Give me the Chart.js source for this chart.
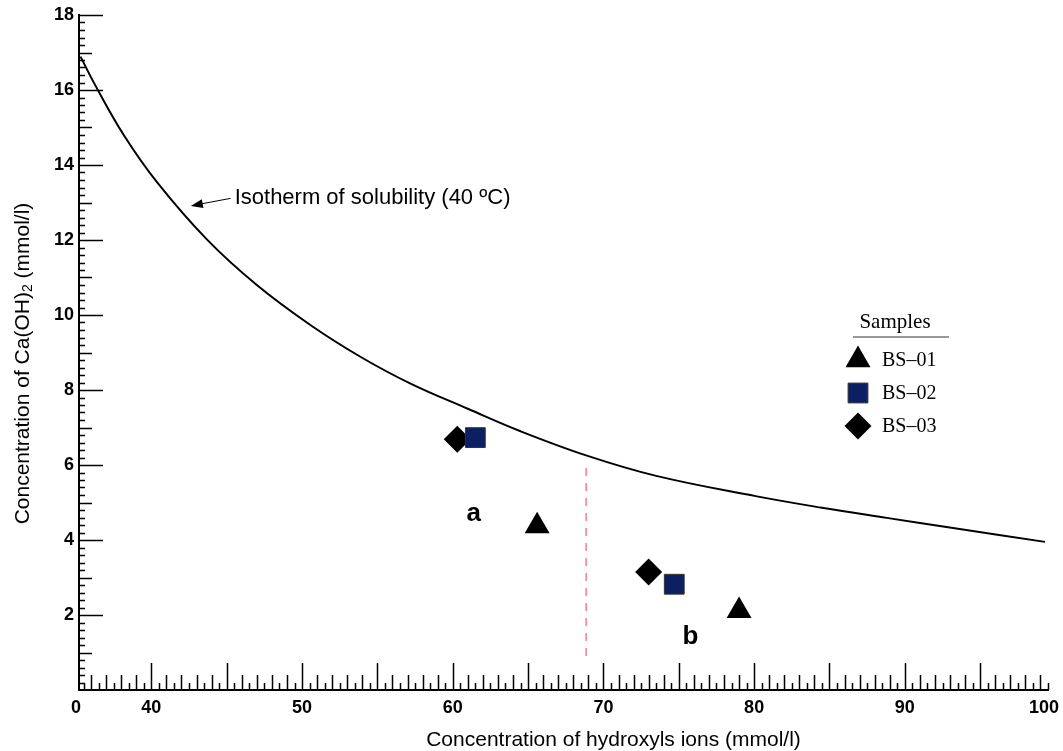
<!DOCTYPE html>
<html>
<head>
<meta charset="utf-8">
<title>Isotherm of solubility (40 ºC)</title>
<script src="https://cdn.jsdelivr.net/npm/chart.js@4.4.1/dist/chart.umd.min.js"></script>
<style>
    html, body { margin: 0; padding: 0; background: #fff; }
    #wrap { position: relative; width: 1063px; height: 751px; }
</style>
</head>
<body>
<div id="wrap"><canvas id="chart"></canvas></div>
<script>
/* ==================== Data ==================== */
// isotherm of solubility at 40 ºC
const isothermX = [35.3, 36.3, 38.2, 40.4, 43.7, 47.0, 50.6, 53.9, 57.2, 61.0, 64.5, 68.9, 73.5, 80.1, 84.5, 88.8, 93.2, 99.3];
const isothermY = [16.89, 16.11, 14.78, 13.53, 12.01, 10.80, 9.72, 8.88, 8.17, 7.50, 6.90, 6.25, 5.71, 5.17, 4.86, 4.59, 4.32, 3.95];

// samples (a = left group, b = right group)
const sampleNames = ['BS–01', 'BS–02', 'BS–03'];
const bs01X = [65.6, 79.0];
const bs01Y = [4.37, 2.11];
const bs02X = [61.5, 74.7];
const bs02Y = [6.73, 2.82];
const bs03X = [60.3, 73.0];
const bs03Y = [6.69, 3.15];

// red dashed separator between group a and b
const dividerX = [68.85, 68.85];
const dividerY = [5.92, 0.85];

// axis ticks
const xTickValues = [35, 40, 50, 60, 70, 80, 90, 100];
const xTickLabels = ['0', '40', '50', '60', '70', '80', '90', '100'];

/* ==================== Styling ==================== */
const SANS = "'Liberation Sans', Arial, sans-serif";
const SERIF = "'Liberation Serif', 'Times New Roman', serif";
const NAVY = '#0b1f62';
const RED = '#ef5d6c';

const toPoints = (xs, ys) => xs.map((x, i) => ({ x: x, y: ys[i] }));

/* ==================== Overlay plugin ==================== */
// inward minor/major tick marks, x labels, axis titles, annotations, legend
const overlay = {
    id: 'overlay',
    afterDraw(chart) {
        const { ctx, chartArea, scales } = chart;
        const x = scales.x, y = scales.y;
        const left = chartArea.left, bottom = chartArea.bottom;

        ctx.save();
        ctx.strokeStyle = '#000';
        ctx.lineWidth = 1.5;

        // x tick marks every 0.5 unit, pointing up into the plot
        ctx.beginPath();
        for (let i = Math.ceil(x.min * 2); i <= Math.floor(x.max * 2); i++) {
            const v = i / 2;
            if (v <= x.min) continue;
            const len = v % 5 === 0 ? 27 : (v % 1 === 0 ? 15 : 7);
            const px = Math.round(x.getPixelForValue(v)) + 0.5;
            ctx.moveTo(px, bottom);
            ctx.lineTo(px, bottom - len);
        }
        // y tick marks every 0.2 unit, pointing right into the plot
        for (let i = 1; i <= Math.round(y.max * 5); i++) {
            const len = i % 10 === 0 ? 24 : (i % 5 === 0 ? 13 : 6);
            const py = Math.round(y.getPixelForValue(i / 5)) + 0.5;
            ctx.moveTo(left, py);
            ctx.lineTo(left + len, py);
        }
        ctx.stroke();

        // x tick labels
        ctx.fillStyle = '#000';
        ctx.font = 'bold 18px ' + SANS;
        ctx.textAlign = 'center';
        ctx.textBaseline = 'middle';
        xTickValues.forEach((v, i) => {
            const w = ctx.measureText(xTickLabels[i]).width;
            const cx = Math.min(x.getPixelForValue(v), chart.width - 4 - w / 2);
            ctx.fillText(xTickLabels[i], cx, bottom + 18);
        });

        // x axis title
        ctx.font = '21px ' + SANS;
        ctx.fillText('Concentration of hydroxyls ions (mmol/l)', (left + chartArea.right) / 2 + 50, bottom + 50);

        // y axis title with subscript
        ctx.save();
        ctx.translate(23, (chartArea.top + bottom) / 2 + 11);
        ctx.rotate(-Math.PI / 2);
        const p1 = 'Concentration of Ca(OH)', p2 = '2', p3 = ' (mmol/l)';
        ctx.font = '21px ' + SANS;
        const w1 = ctx.measureText(p1).width, w3 = ctx.measureText(p3).width;
        ctx.font = '14px ' + SANS;
        const w2 = ctx.measureText(p2).width;
        const tx = -(w1 + w2 + w3) / 2;
        ctx.textAlign = 'left';
        ctx.font = '21px ' + SANS;
        ctx.fillText(p1, tx, 0);
        ctx.font = '14px ' + SANS;
        ctx.fillText(p2, tx + w1, 5);
        ctx.font = '21px ' + SANS;
        ctx.fillText(p3, tx + w1 + w2, 0);
        ctx.restore();

        // isotherm annotation with arrow
        const tipX = x.getPixelForValue(42.62), tipY = y.getPixelForValue(12.91);
        const tailX = x.getPixelForValue(45.25), tailY = y.getPixelForValue(13.11);
        const ang = Math.atan2(tipY - tailY, tipX - tailX);
        ctx.lineWidth = 1;
        ctx.beginPath();
        ctx.moveTo(tailX, tailY);
        ctx.lineTo(tipX - Math.cos(ang) * 8, tipY - Math.sin(ang) * 8);
        ctx.stroke();
        ctx.beginPath();
        ctx.moveTo(tipX, tipY);
        ctx.lineTo(tipX - Math.cos(ang) * 12 + Math.sin(ang) * 4.5, tipY - Math.sin(ang) * 12 - Math.cos(ang) * 4.5);
        ctx.lineTo(tipX - Math.cos(ang) * 12 - Math.sin(ang) * 4.5, tipY - Math.sin(ang) * 12 + Math.cos(ang) * 4.5);
        ctx.closePath();
        ctx.fill();

        ctx.textAlign = 'left';
        ctx.font = '22px ' + SANS;
        ctx.fillText('Isotherm of solubility (40 ºC)', x.getPixelForValue(45.53), y.getPixelForValue(13.12));

        // group labels
        ctx.textAlign = 'center';
        ctx.font = 'bold 26px ' + SANS;
        ctx.fillText('a', x.getPixelForValue(61.39), y.getPixelForValue(4.71));
        ctx.fillText('b', x.getPixelForValue(75.77), y.getPixelForValue(1.42));

        // legend
        const lx = 858, ly = 322;
        ctx.font = '21px ' + SERIF;
        ctx.fillText('Samples', lx + 37, ly);
        ctx.strokeStyle = '#333';
        ctx.lineWidth = 1;
        ctx.beginPath();
        ctx.moveTo(lx - 5, ly + 15);
        ctx.lineTo(lx + 91, ly + 15);
        ctx.stroke();

        ctx.textAlign = 'left';
        chart.data.datasets
            .filter(ds => ds.isSample)
            .sort((a, b) => sampleNames.indexOf(a.label) - sampleNames.indexOf(b.label))
            .forEach((ds, i) => {
                const my = ly + 38 + i * 33;
                ctx.fillStyle = ds.backgroundColor;
                ctx.strokeStyle = ds.borderColor;
                ctx.lineWidth = ds.borderWidth;
                ctx.beginPath();
                Chart.helpers.drawPoint(ctx, {
                    pointStyle: ds.pointStyle,
                    radius: ds.pointRadius,
                    rotation: 0,
                    borderWidth: ds.borderWidth
                }, lx, my);
                ctx.fillStyle = '#000';
                ctx.font = '20px ' + SERIF;
                ctx.fillText(ds.label, lx + 24, my + 1);
            });

        ctx.restore();
    }
};

/* ==================== Chart ==================== */
new Chart(document.getElementById('chart'), {
    type: 'scatter',
    data: {
        datasets: [
            {
                label: sampleNames[1],
                isSample: true,
                data: toPoints(bs02X, bs02Y),
                pointStyle: 'rect',
                pointRadius: 14,
                backgroundColor: NAVY,
                borderColor: '#333',
                borderWidth: 1,
                order: 1
            },
            {
                label: sampleNames[0],
                isSample: true,
                data: toPoints(bs01X, bs01Y),
                pointStyle: 'triangle',
                pointRadius: 14.4,
                backgroundColor: '#000',
                borderColor: '#000',
                borderWidth: 0,
                order: 2
            },
            {
                label: sampleNames[2],
                isSample: true,
                data: toPoints(bs03X, bs03Y),
                pointStyle: 'rectRot',
                pointRadius: 13.5,
                backgroundColor: '#000',
                borderColor: '#000',
                borderWidth: 0,
                order: 3
            },
            {
                label: 'Isotherm of solubility (40 ºC)',
                data: toPoints(isothermX, isothermY),
                showLine: true,
                pointRadius: 0,
                borderColor: '#000',
                borderWidth: 2,
                tension: 0.4,
                order: 4
            },
            {
                label: 'divider',
                data: toPoints(dividerX, dividerY),
                showLine: true,
                pointRadius: 0,
                borderColor: RED,
                borderWidth: 1.2,
                borderDash: [8, 7],
                order: 5
            }
        ]
    },
    options: {
        responsive: true,
        maintainAspectRatio: false,
        animation: false,
        layout: { padding: { left: 0, right: 8, top: 15, bottom: 0 } },
        plugins: {
            legend: { display: false },
            tooltip: { enabled: false }
        },
        scales: {
            x: {
                type: 'linear',
                min: 35.2,
                max: 99.5,
                grid: { display: false, drawTicks: false },
                border: { display: true, color: '#000', width: 2 },
                ticks: { display: false },
                afterFit(scale) {
                    scale.height = 61;
                    scale.paddingLeft = 0;
                    scale.paddingRight = 0;
                }
            },
            y: {
                type: 'linear',
                min: 0,
                max: 18,
                grid: { display: false, drawTicks: false },
                border: { display: true, color: '#000', width: 2 },
                ticks: {
                    stepSize: 2,
                    padding: 5,
                    color: '#000',
                    font: { family: SANS, size: 18, weight: 'bold' },
                    callback: v => (v === 0 ? '' : v)
                },
                afterFit(scale) {
                    scale.width = 79;
                    scale.paddingTop = 0;
                    scale.paddingBottom = 0;
                }
            }
        }
    },
    plugins: [overlay]
});
</script>
</body>
</html>
